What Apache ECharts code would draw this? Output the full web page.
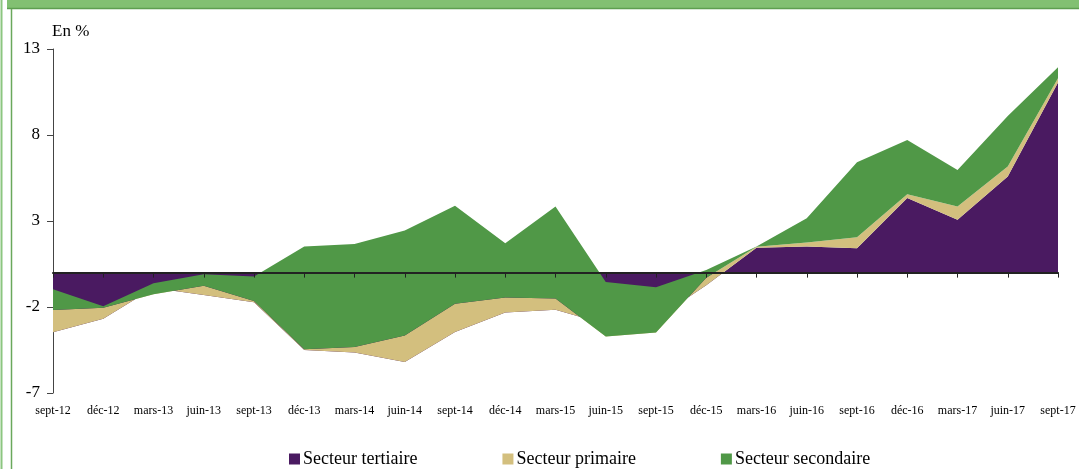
<!DOCTYPE html>
<html>
<head>
<meta charset="utf-8">
<script src="https://cdn.jsdelivr.net/npm/echarts@6/dist/echarts.min.js"></script>
<style>
  html, body { margin: 0; padding: 0; background: #fff; }
  #chart { width: 1079px; height: 469px; }
</style>
</head>
<body>
<div id="chart"></div>
<script>
// quarterly points, sept-12 .. sept-17
const categories = ['sept-12', 'déc-12', 'mars-13', 'juin-13', 'sept-13', 'déc-13', 'mars-14',
  'juin-14', 'sept-14', 'déc-14', 'mars-15', 'juin-15', 'sept-15', 'déc-15', 'mars-16',
  'juin-16', 'sept-16', 'déc-16', 'mars-17', 'juin-17', 'sept-17'];

// values (stacked as a running signed sum, like the source)
const tertiaire = [-3.47, -2.68, -0.90, -1.30, -1.72, -4.50, -4.65, -5.20, -3.46, -2.32, -2.16,
  -3.00, -2.70, -0.73, 1.45, 1.52, 1.42, 4.33, 3.07, 5.59, 11.05];
const primaire = [1.30, 0.64, -0.36, 0.54, 0.07, 0.05, 0.32, 1.54, 1.65, 0.87, 0.65,
  -0.71, -0.78, 0.43, 0.05, 0.23, 0.64, 0.23, 0.77, 0.58, 0.25];
const secondaire = [1.20, 0.08, 0.64, 0.66, 1.42, 5.97, 5.99, 6.11, 5.69, 3.16, 5.35,
  3.16, 2.63, 0.45, 0.02, 1.41, 4.36, 3.15, 2.13, 2.94, 0.64];

const seriesNames = ['Secteur tertiaire', 'Secteur primaire', 'Secteur secondaire'];
const yMin = -7, yMax = 13, yStep = 5;

const colors = ['#4a1a61', '#d3bf7e', '#509847'];
const serif = '"Liberation Serif", "Times New Roman", serif';

const chart = echarts.init(document.getElementById('chart'));

function areaSeries(name, data, color) {
  return {
    name,
    type: 'line',
    stack: 'total',
    stackStrategy: 'all',
    data,
    showSymbol: false,
    symbol: 'none',
    lineStyle: { width: 0 },
    itemStyle: { color },
    areaStyle: { color, opacity: 1 },
  };
}

chart.setOption({
  animation: false,
  color: colors,
  grid: { left: 53, right: 21, top: 49, bottom: 76 },
  legend: {
    data: seriesNames,
    left: 284,
    top: 445,
    icon: 'rect',
    itemWidth: 11,
    itemHeight: 11,
    itemGap: 85,
    textStyle: { fontFamily: serif, fontSize: 18, color: '#000', padding: [0, 0, 0, -2] },
  },
  graphic: [
    { type: 'rect', shape: { x: 7, y: 0, width: 1072, height: 8 }, style: { fill: '#82c072' } },
    { type: 'line', shape: { x1: 7, y1: 8.5, x2: 1079, y2: 8.5 }, style: { stroke: '#5e9e50', lineWidth: 1.5 } },
    { type: 'line', shape: { x1: 11.5, y1: 9, x2: 11.5, y2: 469 }, style: { stroke: '#6aa85c', lineWidth: 1.5 } },
    { type: 'line', shape: { x1: 1.5, y1: 0, x2: 1.5, y2: 469 }, style: { stroke: '#8cc680', lineWidth: 2 } },
    {
      type: 'text', left: 52, top: 23,
      style: { text: 'En %', fontFamily: serif, fontSize: 17, fill: '#000' },
    },
  ],
  xAxis: [
    {
      type: 'category',
      data: categories,
      boundaryGap: false,
      position: 'bottom',
      axisLine: { show: false, onZero: false },
      axisTick: { show: false },
      axisLabel: { interval: 0, margin: 12, fontFamily: serif, fontSize: 12, color: '#000' },
    },
    {
      type: 'category',
      data: categories,
      boundaryGap: false,
      position: 'top',
      z: 10,
      axisLine: { show: true, onZero: true, lineStyle: { color: '#222', width: 2 } },
      axisTick: { show: true, inside: true, length: 5, interval: 0, lineStyle: { color: '#222', width: 1 } },
      axisLabel: { show: false },
    },
  ],
  yAxis: {
    type: 'value',
    min: yMin,
    max: yMax,
    interval: yStep,
    splitLine: { show: false },
    axisLine: { show: true, onZero: false, lineStyle: { color: '#444', width: 1 } },
    axisTick: { show: true, length: 6, lineStyle: { color: '#444' } },
    axisLabel: { margin: 13, fontFamily: serif, fontSize: 17, color: '#000' },
  },
  series: [
    areaSeries(seriesNames[0], tertiaire, colors[0]),
    areaSeries(seriesNames[1], primaire, colors[1]),
    areaSeries(seriesNames[2], secondaire, colors[2]),
  ],
});
</script>
</body>
</html>
